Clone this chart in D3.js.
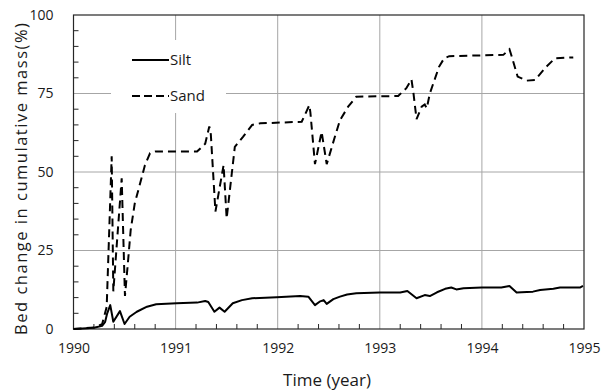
<!DOCTYPE html>
<html>
<head>
<meta charset="utf-8">
<script src="https://cdn.jsdelivr.net/npm/d3@7"></script>
<style>
  html, body { margin: 0; padding: 0; background: #fff; }
  svg { display: block; }
  text { font-family: "Open Sans", "Noto Sans", sans-serif; fill: #1a1a1a; }
</style>
</head>
<body>
<svg id="chart" width="609" height="391"></svg>
<script>
// Bed change in cumulative mass (%) over time, two sediment classes
const siltYears = [1990.00, 1990.13, 1990.21, 1990.28, 1990.31, 1990.33, 1990.36, 1990.39, 1990.455, 1990.50,
  1990.55, 1990.62, 1990.72, 1990.81, 1991.01, 1991.21, 1991.29, 1991.32, 1991.38, 1991.43, 1991.48, 1991.56,
  1991.65, 1991.75, 1991.99, 1992.22, 1992.30, 1992.365, 1992.41, 1992.45, 1992.48, 1992.545, 1992.61, 1992.68,
  1992.77, 1993.00, 1993.20, 1993.27, 1993.36, 1993.44, 1993.49, 1993.56, 1993.64, 1993.70, 1993.75, 1993.82,
  1994.00, 1994.19, 1994.27, 1994.34, 1994.44, 1994.50, 1994.57, 1994.70, 1994.765, 1994.96, 1994.99];
const siltValues = [0, 0.2, 0.5, 1.0, 2.3, 5.0, 7.6, 2.3, 5.7, 1.6,
  3.9, 5.5, 7.1, 7.9, 8.2, 8.4, 8.9, 8.6, 5.5, 6.8, 5.5, 8.2,
  9.2, 9.8, 10.1, 10.5, 10.3, 7.6, 8.7, 9.2, 8.0, 9.5, 10.3, 11.0,
  11.4, 11.6, 11.6, 12.1, 9.8, 10.8, 10.5, 11.7, 12.8, 13.2, 12.6, 13.0,
  13.2, 13.2, 13.7, 11.6, 11.8, 11.9, 12.4, 12.8, 13.2, 13.2, 13.7];

const sandYears = [1990.00, 1990.20, 1990.28, 1990.325, 1990.374, 1990.39, 1990.472, 1990.504, 1990.53, 1990.56,
  1990.60, 1990.67, 1990.70, 1990.75, 1990.80, 1991.21, 1991.29, 1991.33, 1991.345, 1991.39, 1991.47, 1991.50,
  1991.58, 1991.66, 1991.75, 1991.83, 1992.235, 1992.31, 1992.32, 1992.365, 1992.43, 1992.48, 1992.56, 1992.61,
  1992.69, 1992.77, 1993.18, 1993.26, 1993.31, 1993.33, 1993.36, 1993.41, 1993.44, 1993.46, 1993.49, 1993.58,
  1993.63, 1993.68, 1994.21, 1994.27, 1994.29, 1994.35, 1994.44, 1994.52, 1994.63, 1994.715, 1994.895];
const sandValues = [0, 0.5, 1.5, 7.0, 55.0, 12.0, 48.0, 10.5, 20.0, 31.5,
  40.0, 48.5, 52.2, 56.0, 56.5, 56.5, 59.0, 64.5, 62.0, 37.4, 52.2, 35.2,
  58.0, 61.2, 65.0, 65.5, 66.0, 71.3, 69.0, 52.5, 62.8, 52.5, 61.2, 66.5,
  70.8, 74.0, 74.2, 76.7, 79.5, 75.0, 66.8, 70.8, 71.5, 70.3, 75.0, 83.5,
  86.2, 86.9, 87.3, 89.1, 87.0, 80.4, 79.1, 79.3, 83.5, 86.2, 86.5];

const xTickLabels = [1990, 1991, 1992, 1993, 1994, 1995];
const yTickLabels = [0, 25, 50, 75, 100];
const seriesNames = ["Silt", "Sand"];

const svg = d3.select("#chart");
const plotLeft = 73.5, plotRight = 584, plotTop = 15, plotBottom = 329;

const x = d3.scaleLinear().domain([1990, 1995]).range([plotLeft, plotRight]);
const y = d3.scaleLinear().domain([0, 100]).range([plotBottom, plotTop]);

// grid lines
const grid = svg.append("g").attr("stroke", "#a6a6a6").attr("stroke-width", 1);
grid.selectAll("line.gx").data(xTickLabels.slice(1, -1)).join("line")
  .attr("x1", d => x(d)).attr("x2", d => x(d)).attr("y1", plotTop).attr("y2", plotBottom);
grid.selectAll("line.gy").data(yTickLabels.slice(1, -1)).join("line")
  .attr("x1", plotLeft).attr("x2", plotRight).attr("y1", d => y(d)).attr("y2", d => y(d));

// legend background hides the grid behind it
svg.append("rect").attr("x", 111).attr("y", 40).attr("width", 115).attr("height", 73).attr("fill", "#fff");

// frame
svg.append("rect").attr("x", plotLeft).attr("y", plotTop).attr("width", plotRight - plotLeft).attr("height", plotBottom - plotTop)
  .attr("fill", "none").attr("stroke", "#262626").attr("stroke-width", 1.2);

// minor ticks inside the frame
const minorX = d3.range(1990.2, 1995, 0.2).filter(v => Math.abs(v - Math.round(v)) > 0.01);
svg.append("g").attr("stroke", "#262626").attr("stroke-width", 1)
  .selectAll("line").data(minorX).join("line")
  .attr("x1", d => x(d)).attr("x2", d => x(d)).attr("y1", plotBottom).attr("y2", plotBottom - 5);
const minorY = d3.range(5, 100, 5).filter(v => v % 25 !== 0);
svg.append("g").attr("stroke", "#262626").attr("stroke-width", 1)
  .selectAll("line").data(minorY).join("line")
  .attr("x1", plotLeft).attr("x2", plotLeft + 5).attr("y1", d => y(d)).attr("y2", d => y(d));

// tick labels via d3 axes
const xAxis = d3.axisBottom(x).tickValues(xTickLabels).tickFormat(d3.format("d")).tickSize(0).tickPadding(14);
svg.append("g").attr("transform", `translate(0,${plotBottom})`).call(xAxis)
  .call(g => g.select(".domain").remove())
  .selectAll("text").attr("font-size", 14).attr("font-family", "Open Sans").attr("fill", "#1a1a1a");

const yAxis = d3.axisLeft(y).tickValues(yTickLabels).tickSize(0).tickPadding(20);
svg.append("g").attr("transform", `translate(${plotLeft},0)`).call(yAxis)
  .call(g => g.select(".domain").remove())
  .selectAll("text").attr("font-size", 14).attr("font-family", "Open Sans").attr("fill", "#1a1a1a");

// axis titles
svg.append("text").attr("x", 327).attr("y", 386).attr("text-anchor", "middle")
  .attr("font-size", 17).text("Time (year)");
svg.append("text").attr("transform", `translate(27,179) rotate(-90)`)
  .attr("text-anchor", "middle").attr("font-size", 16.5)
  .attr("textLength", 312).attr("lengthAdjust", "spacing")
  .text("Bed change in cumulative mass(%)");

// series lines
const line = d3.line().x(d => x(d[0])).y(d => y(d[1]));
const silt = d3.zip(siltYears, siltValues);
const sand = d3.zip(sandYears, sandValues);

svg.append("path").datum(silt).attr("d", line)
  .attr("fill", "none").attr("stroke", "#000").attr("stroke-width", 2).attr("stroke-linejoin", "round");
svg.append("path").datum(sand).attr("d", line)
  .attr("fill", "none").attr("stroke", "#000").attr("stroke-width", 2).attr("stroke-dasharray", "8,5");

// legend
const legend = svg.append("g");
const legendRows = [{ name: seriesNames[0], dash: null, ly: 60 }, { name: seriesNames[1], dash: "8,4", ly: 96 }];
legendRows.forEach(r => {
  legend.append("line").attr("x1", 132).attr("x2", 169).attr("y1", r.ly).attr("y2", r.ly)
    .attr("stroke", "#000").attr("stroke-width", 2).attr("stroke-dasharray", r.dash);
  legend.append("text").attr("x", 170).attr("y", r.ly + 5).attr("font-size", 15).text(r.name);
});
</script>
</body>
</html>
